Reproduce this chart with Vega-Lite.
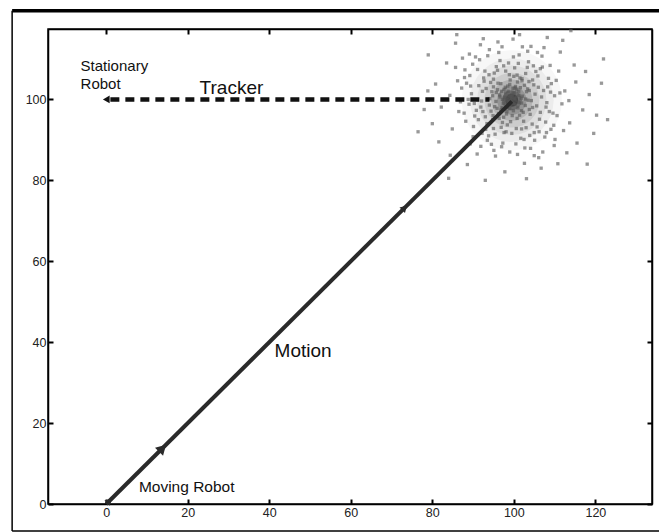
{
  "$schema": "https://vega.github.io/schema/vega-lite/v6.json",
  "width": 604,
  "height": 475,
  "autosize": {"type": "none"},
  "padding": {"left": 48, "top": 29, "right": 7, "bottom": 28},
  "background": "white",
  "config": {
    "view": {"stroke": "black", "strokeWidth": 1.5},
    "axis": {
      "grid": false,
      "title": null,
      "domainColor": "black",
      "domainWidth": 1.5,
      "tickColor": "black",
      "tickWidth": 2,
      "tickSize": -5,
      "labelFont": "Liberation Sans",
      "labelFontSize": 12.5,
      "labelColor": "#222222",
      "labelPadding": 7
    }
  },
  "datasets": {
    "halo": [
      {"x": 99.5, "y": 99.8}
    ],
    "cloud": [
      {"x":99.5,"y":101.2},{"x":97.7,"y":100.4},{"x":101.1,"y":99.3},{"x":98.4,"y":98.1},{"x":100.7,"y":102.4},{"x":96.5,"y":101.1},{"x":99.2,"y":99.7},{"x":102.1,"y":100.8},{"x":97.9,"y":103.0},{"x":99.9,"y":97.2},
      {"x":95.6,"y":99.5},{"x":101.6,"y":102.9},{"x":98.6,"y":102.0},{"x":100.3,"y":98.8},{"x":96.8,"y":97.4},{"x":102.8,"y":98.5},{"x":97.2,"y":100.0},{"x":99.0,"y":103.7},{"x":101.3,"y":101.0},{"x":98.1,"y":99.2},
      {"x":100.0,"y":100.1},{"x":96.0,"y":102.4},{"x":103.1,"y":101.9},{"x":96.3,"y":96.5},{"x":99.6,"y":96.0},{"x":102.3,"y":96.8},{"x":94.8,"y":100.9},{"x":100.9,"y":104.3},{"x":97.5,"y":95.6},{"x":103.5,"y":99.8},
      {"x":98.8,"y":101.0},{"x":100.5,"y":99.8},{"x":98.0,"y":101.6},{"x":99.3,"y":98.6},{"x":101.8,"y":100.3},{"x":97.0,"y":102.0},{"x":99.8,"y":102.7},{"x":95.3,"y":98.2},{"x":101.0,"y":97.9},{"x":98.3,"y":97.1},
      {"x":102.6,"y":103.5},{"x":95.0,"y":103.1},{"x":100.1,"y":101.5},{"x":97.4,"y":99.0},{"x":99.4,"y":100.5},{"x":98.7,"y":99.4},{"x":101.4,"y":96.1},{"x":96.1,"y":104.0},{"x":103.4,"y":102.6},{"x":94.4,"y":97.1},
      {"x":99.1,"y":104.8},{"x":100.8,"y":95.3},{"x":97.8,"y":99.9},{"x":99.7,"y":100.9},{"x":101.9,"y":99.1},{"x":96.6,"y":100.6},{"x":98.5,"y":103.3},{"x":100.4,"y":103.2},{"x":95.7,"y":101.7},{"x":102.9,"y":100.1},
      {"x":98.2,"y":96.4},{"x":101.2,"y":102.0},{"x":97.1,"y":98.0},{"x":99.0,"y":97.7},{"x":103.8,"y":97.5},{"x":94.1,"y":100.2},{"x":102.0,"y":104.6},{"x":96.4,"y":95.3},{"x":100.6,"y":100.6},{"x":97.6,"y":102.5},
      {"x":99.3,"y":100.2},{"x":98.9,"y":99.6},{"x":99.6,"y":99.4},{"x":98.5,"y":100.4},{"x":100.2,"y":100.3},{"x":99.1,"y":100.8},{"x":98.3,"y":99.9},{"x":100.0,"y":99.0},{"x":99.8,"y":101.6},{"x":97.9,"y":100.7},
      {"x":105.2,"y":101.3},{"x":93.2,"y":102.7},{"x":102.9,"y":106.4},{"x":96.9,"y":93.1},{"x":106.5,"y":96.8},{"x":91.9,"y":98.1},{"x":100.2,"y":107.8},{"x":104.5,"y":93.9},{"x":92.6,"y":105.3},{"x":95.0,"y":92.8},
      {"x":107.3,"y":102.2},{"x":90.4,"y":95.9},{"x":99.5,"y":91.6},{"x":105.9,"y":105.8},{"x":95.7,"y":108.1},{"x":108.1,"y":99.2},{"x":89.6,"y":101.4},{"x":101.7,"y":90.4},{"x":91.1,"y":107.4},{"x":106.2,"y":92.0},
      {"x":103.6,"y":109.3},{"x":93.8,"y":91.0},{"x":109.2,"y":103.9},{"x":89.0,"y":98.8},{"x":99.9,"y":110.5},{"x":107.8,"y":94.4},{"x":89.2,"y":105.9},{"x":97.3,"y":89.2},{"x":104.9,"y":103.6},{"x":93.0,"y":95.7},
      {"x":102.4,"y":94.6},{"x":94.3,"y":104.2},{"x":105.6,"y":98.4},{"x":93.7,"y":100.1},{"x":100.8,"y":106.0},{"x":98.4,"y":93.7},{"x":106.8,"y":100.6},{"x":91.4,"y":103.4},{"x":101.9,"y":92.7},{"x":95.2,"y":106.5},
      {"x":108.7,"y":97.0},{"x":90.1,"y":93.3},{"x":103.3,"y":107.9},{"x":96.6,"y":109.6},{"x":109.8,"y":93.6},{"x":88.4,"y":104.0},{"x":105.1,"y":89.9},{"x":92.2,"y":91.6},{"x":107.0,"y":108.0},{"x":98.0,"y":107.0},
      {"x":104.0,"y":96.3},{"x":93.4,"y":94.0},{"x":102.0,"y":105.1},{"x":94.6,"y":101.9},{"x":106.0,"y":103.0},{"x":92.1,"y":99.6},{"x":99.2,"y":94.5},{"x":103.9,"y":91.1},{"x":90.8,"y":97.3},{"x":108.5,"y":105.2},
      {"x":89.9,"y":108.7},{"x":101.1,"y":108.9},{"x":95.4,"y":91.4},{"x":110.0,"y":100.9},{"x":87.8,"y":96.6},{"x":105.7,"y":93.2},{"x":91.6,"y":109.8},{"x":100.5,"y":89.0},{"x":107.6,"y":90.7},{"x":98.7,"y":109.0},
      {"x":104.3,"y":99.7},{"x":94.0,"y":98.6},{"x":101.5,"y":105.3},{"x":97.2,"y":94.3},{"x":105.4,"y":106.9},{"x":92.7,"y":104.5},{"x":103.0,"y":93.0},{"x":96.0,"y":107.2},{"x":107.9,"y":98.1},{"x":91.3,"y":95.0},
      {"x":98.9,"y":106.1},{"x":100.6,"y":92.8},{"x":95.9,"y":97.8},{"x":103.7,"y":104.4},{"x":94.8,"y":95.0},{"x":106.3,"y":95.1},{"x":92.9,"y":107.0},{"x":101.3,"y":111.0},{"x":97.6,"y":91.8},{"x":109.0,"y":101.8},
      {"x":88.8,"y":100.0},{"x":104.8,"y":108.3},{"x":93.5,"y":89.9},{"x":110.6,"y":96.0},{"x":90.6,"y":110.5},{"x":102.7,"y":88.0},{"x":96.3,"y":111.6},{"x":108.0,"y":91.8},{"x":87.2,"y":102.8},{"x":106.9,"y":110.7},
      {"x":104.6,"y":104.8},{"x":93.9,"y":106.1},{"x":97.0,"y":88.3},{"x":111.8,"y":98.9},{"x":86.9,"y":99.4},{"x":102.1,"y":113.0},{"x":95.5,"y":86.0},{"x":108.9,"y":108.4},{"x":90.0,"y":90.8},{"x":104.1,"y":87.9},
      {"x":112.2,"y":92.3},{"x":85.7,"y":107.9},{"x":100.9,"y":86.4},{"x":110.4,"y":104.7},{"x":93.6,"y":110.8},{"x":107.1,"y":87.0},{"x":88.2,"y":94.6},{"x":97.1,"y":113.0},{"x":113.5,"y":99.7},{"x":84.3,"y":101.0},
      {"x":105.8,"y":111.6},{"x":91.9,"y":88.4},{"x":109.6,"y":96.6},{"x":89.4,"y":103.3},{"x":103.8,"y":102.2},{"x":94.9,"y":96.0},{"x":101.9,"y":97.2},{"x":96.8,"y":103.9},{"x":105.0,"y":91.8},{"x":92.3,"y":102.0},
      {"x":108.3,"y":103.1},{"x":90.3,"y":99.0},{"x":100.0,"y":105.7},{"x":98.1,"y":92.0},{"x":104.6,"y":98.0},{"x":95.0,"y":105.0},{"x":106.5,"y":107.6},{"x":93.1,"y":92.6},{"x":102.5,"y":90.1},{"x":97.5,"y":108.3},
      {"x":111.3,"y":101.6},{"x":87.9,"y":105.4},{"x":103.4,"y":111.9},{"x":94.5,"y":88.9},{"x":110.1,"y":90.1},{"x":89.1,"y":111.2},{"x":106.1,"y":85.6},{"x":92.4,"y":97.0},{"x":100.3,"y":102.8},{"x":97.3,"y":97.6},
      {"x":112.5,"y":102.1},{"x":86.2,"y":104.6},{"x":104.2,"y":113.1},{"x":95.1,"y":87.4},{"x":113.7,"y":94.2},{"x":84.9,"y":92.7},{"x":99.8,"y":114.9},{"x":109.9,"y":88.6},{"x":87.4,"y":110.2},{"x":91.0,"y":86.5},
      {"x":115.2,"y":104.3},{"x":82.2,"y":98.1},{"x":102.6,"y":84.2},{"x":111.4,"y":111.7},{"x":92.5,"y":115.0},{"x":116.9,"y":97.4},{"x":80.8,"y":103.8},{"x":106.7,"y":83.0},{"x":85.7,"y":113.9},{"x":113.0,"y":86.8},
      {"x":108.2,"y":115.3},{"x":88.6,"y":83.9},{"x":118.5,"y":101.2},{"x":80.0,"y":94.0},{"x":101.4,"y":116.0},{"x":114.8,"y":108.5},{"x":83.5,"y":109.0},{"x":97.8,"y":82.1},{"x":119.6,"y":91.6},{"x":78.9,"y":102.1},
      {"x":110.8,"y":84.1},{"x":89.3,"y":89.0},{"x":111.0,"y":107.0},{"x":86.5,"y":97.0},{"x":105.0,"y":86.1},{"x":94.0,"y":112.3},{"x":117.6,"y":106.9},{"x":81.6,"y":89.5},{"x":103.1,"y":80.4},{"x":112.0,"y":114.6},
      {"x":120.3,"y":96.1},{"x":78.0,"y":97.5},{"x":107.4,"y":112.8},{"x":91.8,"y":113.5},{"x":115.5,"y":89.2},{"x":84.4,"y":86.2},{"x":99.0,"y":87.0},{"x":96.1,"y":114.2},{"x":109.1,"y":92.6},{"x":88.0,"y":107.3},
      {"x":121.5,"y":104.0},{"x":76.5,"y":92.0},{"x":84.0,"y":80.5},{"x":118.0,"y":84.0},{"x":79.0,"y":111.0},{"x":122.0,"y":110.0},{"x":93.0,"y":80.0},{"x":114.0,"y":117.0},{"x":86.0,"y":116.0},{"x":123.0,"y":95.0}
    ]
  },
  "layer": [
    {
      "data": {"values": [{"x": -23.1, "y": -6.7, "x2": -23.1, "y2": 121.9}, {"x": -23.1, "y": -6.7, "x2": 140, "y2": -6.7}]},
      "mark": {"type": "rule", "color": "black", "strokeWidth": 1.5, "clip": false},
      "encoding": {
        "x": {"field": "x", "type": "quantitative", "scale": {"domain": [-14.3, 133.9], "nice": false, "zero": false}, "axis": null},
        "y": {"field": "y", "type": "quantitative", "scale": {"domain": [0, 117.4], "nice": false, "zero": false}, "axis": null},
        "x2": {"field": "x2"},
        "y2": {"field": "y2"}
      }
    },
    {
      "data": {"values": [{"x": -23.1, "y": 121.9, "x2": 140, "y2": 121.9}]},
      "mark": {"type": "rule", "color": "black", "strokeWidth": 3.5, "clip": false},
      "encoding": {
        "x": {"field": "x", "type": "quantitative", "scale": {"domain": [-14.3, 133.9], "nice": false, "zero": false}, "axis": null},
        "y": {"field": "y", "type": "quantitative", "scale": {"domain": [0, 117.4], "nice": false, "zero": false}, "axis": null},
        "x2": {"field": "x2"},
        "y2": {"field": "y2"}
      }
    },
    {"data": {"name": "halo"}, "mark": {"type": "point", "shape": "circle", "filled": true, "color": "#888888", "opacity": 0.07, "size": 10000, "strokeWidth": 0, "clip": true},
     "encoding": {"x": {"field": "x", "type": "quantitative", "scale": {"domain": [-14.3, 133.9], "nice": false, "zero": false}, "axis": null},
                  "y": {"field": "y", "type": "quantitative", "scale": {"domain": [0, 117.4], "nice": false, "zero": false}, "axis": null}}},
    {"data": {"name": "halo"}, "mark": {"type": "point", "shape": "circle", "filled": true, "color": "#777777", "opacity": 0.08, "size": 7000, "strokeWidth": 0, "clip": true},
     "encoding": {"x": {"field": "x", "type": "quantitative", "scale": {"domain": [-14.3, 133.9], "nice": false, "zero": false}, "axis": null},
                  "y": {"field": "y", "type": "quantitative", "scale": {"domain": [0, 117.4], "nice": false, "zero": false}, "axis": null}}},
    {"data": {"name": "halo"}, "mark": {"type": "point", "shape": "circle", "filled": true, "color": "#666666", "opacity": 0.1, "size": 4800, "strokeWidth": 0, "clip": true},
     "encoding": {"x": {"field": "x", "type": "quantitative", "scale": {"domain": [-14.3, 133.9], "nice": false, "zero": false}, "axis": null},
                  "y": {"field": "y", "type": "quantitative", "scale": {"domain": [0, 117.4], "nice": false, "zero": false}, "axis": null}}},
    {"data": {"name": "halo"}, "mark": {"type": "point", "shape": "circle", "filled": true, "color": "#555555", "opacity": 0.13, "size": 3000, "strokeWidth": 0},
     "encoding": {"x": {"field": "x", "type": "quantitative", "scale": {"domain": [-14.3, 133.9], "nice": false, "zero": false}, "axis": null},
                  "y": {"field": "y", "type": "quantitative", "scale": {"domain": [0, 117.4], "nice": false, "zero": false}, "axis": null}}},
    {"data": {"name": "halo"}, "mark": {"type": "point", "shape": "circle", "filled": true, "color": "#444444", "opacity": 0.17, "size": 1700, "strokeWidth": 0},
     "encoding": {"x": {"field": "x", "type": "quantitative", "scale": {"domain": [-14.3, 133.9], "nice": false, "zero": false}, "axis": null},
                  "y": {"field": "y", "type": "quantitative", "scale": {"domain": [0, 117.4], "nice": false, "zero": false}, "axis": null}}},
    {"data": {"name": "halo"}, "mark": {"type": "point", "shape": "circle", "filled": true, "color": "#333333", "opacity": 0.25, "size": 850, "strokeWidth": 0},
     "encoding": {"x": {"field": "x", "type": "quantitative", "scale": {"domain": [-14.3, 133.9], "nice": false, "zero": false}, "axis": null},
                  "y": {"field": "y", "type": "quantitative", "scale": {"domain": [0, 117.4], "nice": false, "zero": false}, "axis": null}}},
    {"data": {"name": "halo"}, "mark": {"type": "point", "shape": "circle", "filled": true, "color": "#222222", "opacity": 0.35, "size": 400, "strokeWidth": 0},
     "encoding": {"x": {"field": "x", "type": "quantitative", "scale": {"domain": [-14.3, 133.9], "nice": false, "zero": false}, "axis": null},
                  "y": {"field": "y", "type": "quantitative", "scale": {"domain": [0, 117.4], "nice": false, "zero": false}, "axis": null}}},
    {"data": {"name": "halo"}, "mark": {"type": "point", "shape": "circle", "filled": true, "color": "#111111", "opacity": 0.5, "size": 160, "strokeWidth": 0},
     "encoding": {"x": {"field": "x", "type": "quantitative", "scale": {"domain": [-14.3, 133.9], "nice": false, "zero": false}, "axis": null},
                  "y": {"field": "y", "type": "quantitative", "scale": {"domain": [0, 117.4], "nice": false, "zero": false}, "axis": null}}},
    {
      "data": {"name": "cloud"},
      "mark": {"type": "point", "shape": "square", "filled": true, "color": "#555555", "opacity": 0.6, "size": 11, "strokeWidth": 0, "clip": true},
      "encoding": {
        "x": {"field": "x", "type": "quantitative", "scale": {"domain": [-14.3, 133.9], "nice": false, "zero": false},
              "axis": {"orient": "bottom", "values": [0, 20, 40, 60, 80, 100, 120]}},
        "y": {"field": "y", "type": "quantitative", "scale": {"domain": [0, 117.4], "nice": false, "zero": false},
              "axis": {"orient": "left", "values": [0, 20, 40, 60, 80, 100]}}
      }
    },
    {
      "data": {"values": [{"x": 0, "y": 0}, {"x": 99.5, "y": 99.5}]},
      "mark": {"type": "line", "color": "#2a2a2a", "strokeWidth": 4},
      "encoding": {
        "x": {"field": "x", "type": "quantitative", "scale": {"domain": [-14.3, 133.9], "nice": false, "zero": false},
              "axis": {"orient": "top", "labels": false, "values": [0, 20, 40, 60, 80, 100, 120]}},
        "y": {"field": "y", "type": "quantitative", "scale": {"domain": [0, 117.4], "nice": false, "zero": false},
              "axis": {"orient": "right", "labels": false, "values": [0, 20, 40, 60, 80, 100]}}
      }
    },
    {
      "data": {"values": [{"x": 1, "y": 100}, {"x": 94, "y": 100}]},
      "mark": {"type": "line", "color": "#111111", "strokeWidth": 4.5, "strokeDash": [9, 6]},
      "encoding": {
        "x": {"field": "x", "type": "quantitative", "scale": {"domain": [-14.3, 133.9], "nice": false, "zero": false}, "axis": null},
        "y": {"field": "y", "type": "quantitative", "scale": {"domain": [0, 117.4], "nice": false, "zero": false}, "axis": null}
      }
    },
    {
      "data": {"values": [{"x": 0, "y": 100}]},
      "mark": {"type": "point", "shape": "triangle-left", "filled": true, "color": "#111111", "opacity": 1, "size": 60},
      "encoding": {
        "x": {"field": "x", "type": "quantitative", "scale": {"domain": [-14.3, 133.9], "nice": false, "zero": false}, "axis": null},
        "y": {"field": "y", "type": "quantitative", "scale": {"domain": [0, 117.4], "nice": false, "zero": false}, "axis": null}
      }
    },
    {
      "data": {"values": [{"x": 13.8, "y": 13.8}]},
      "mark": {"type": "point", "shape": "triangle-right", "angle": -45, "filled": true, "color": "#2a2a2a", "opacity": 1, "size": 130},
      "encoding": {
        "x": {"field": "x", "type": "quantitative", "scale": {"domain": [-14.3, 133.9], "nice": false, "zero": false}, "axis": null},
        "y": {"field": "y", "type": "quantitative", "scale": {"domain": [0, 117.4], "nice": false, "zero": false}, "axis": null}
      }
    },
    {
      "data": {"values": [{"x": 73.2, "y": 73.2}, {"x": 0.8, "y": 0.8}]},
      "mark": {"type": "point", "shape": "triangle-right", "angle": -45, "filled": true, "color": "#2a2a2a", "opacity": 1, "size": 60},
      "encoding": {
        "x": {"field": "x", "type": "quantitative", "scale": {"domain": [-14.3, 133.9], "nice": false, "zero": false}, "axis": null},
        "y": {"field": "y", "type": "quantitative", "scale": {"domain": [0, 117.4], "nice": false, "zero": false}, "axis": null}
      }
    },
    {
      "data": {"values": [{"x": -6.3, "y": 108.3, "t": "Stationary"}, {"x": -6.3, "y": 103.7, "t": "Robot"}]},
      "mark": {"type": "text", "font": "Liberation Sans", "fontSize": 15, "align": "left", "baseline": "middle", "color": "#111111"},
      "encoding": {
        "x": {"field": "x", "type": "quantitative", "scale": {"domain": [-14.3, 133.9], "nice": false, "zero": false}, "axis": null},
        "y": {"field": "y", "type": "quantitative", "scale": {"domain": [0, 117.4], "nice": false, "zero": false}, "axis": null},
        "text": {"field": "t"}
      }
    },
    {
      "data": {"values": [{"x": 22.9, "y": 102.7, "t": "Tracker"}]},
      "mark": {"type": "text", "font": "Liberation Sans", "fontSize": 19, "align": "left", "baseline": "middle", "color": "#111111"},
      "encoding": {
        "x": {"field": "x", "type": "quantitative", "scale": {"domain": [-14.3, 133.9], "nice": false, "zero": false}, "axis": null},
        "y": {"field": "y", "type": "quantitative", "scale": {"domain": [0, 117.4], "nice": false, "zero": false}, "axis": null},
        "text": {"field": "t"}
      }
    },
    {
      "data": {"values": [{"x": 41.3, "y": 37.9, "t": "Motion"}]},
      "mark": {"type": "text", "font": "Liberation Sans", "fontSize": 19, "align": "left", "baseline": "middle", "color": "#111111"},
      "encoding": {
        "x": {"field": "x", "type": "quantitative", "scale": {"domain": [-14.3, 133.9], "nice": false, "zero": false}, "axis": null},
        "y": {"field": "y", "type": "quantitative", "scale": {"domain": [0, 117.4], "nice": false, "zero": false}, "axis": null},
        "text": {"field": "t"}
      }
    },
    {
      "data": {"values": [{"x": 8.0, "y": 4.1, "t": "Moving Robot"}]},
      "mark": {"type": "text", "font": "Liberation Sans", "fontSize": 15.5, "align": "left", "baseline": "middle", "color": "#111111"},
      "encoding": {
        "x": {"field": "x", "type": "quantitative", "scale": {"domain": [-14.3, 133.9], "nice": false, "zero": false}, "axis": null},
        "y": {"field": "y", "type": "quantitative", "scale": {"domain": [0, 117.4], "nice": false, "zero": false}, "axis": null},
        "text": {"field": "t"}
      }
    }
  ]
}
